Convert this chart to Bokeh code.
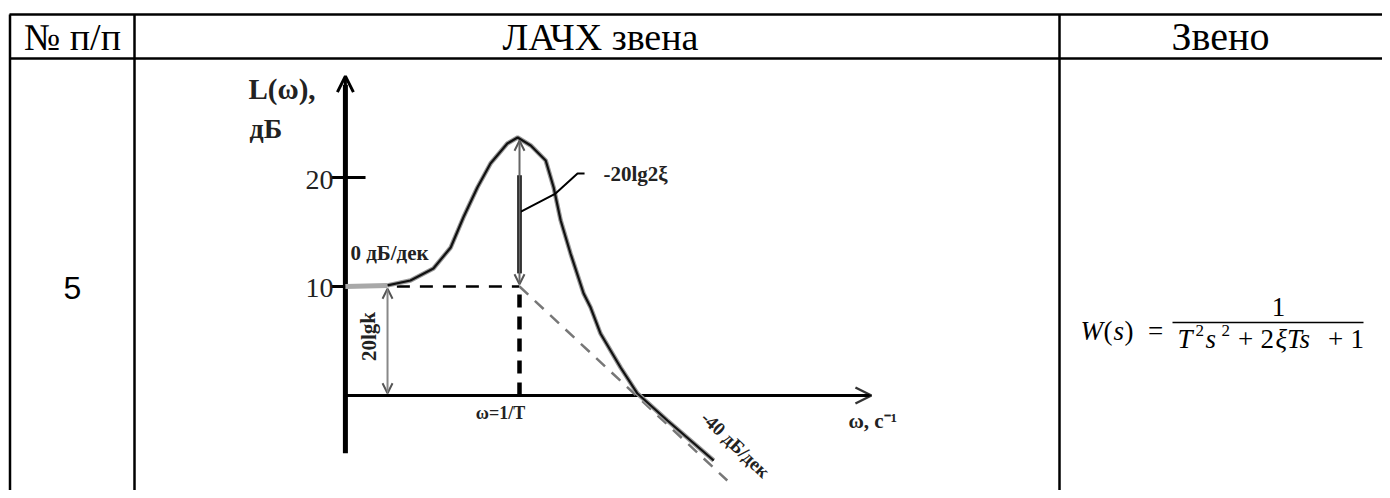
from bokeh.plotting import figure
from bokeh.models import Range1d, Arrow, OpenHead
from bokeh.core.properties import value
from bokeh.embed import file_html
from bokeh.resources import INLINE

# ---------------- table content ----------------
headers = ["№ п/п", "ЛАЧХ звена", "Звено"]
row_number = "5"

# ---------------- LAFC data (x: lg(ωT), y: L(ω), dB) ----------------
lg_w = [-0.372, -0.282, -0.233, -0.184, -0.147, -0.120, -0.090, -0.062, -0.026,
        -0.004, 0.024, 0.056, 0.073, 0.088, 0.109, 0.137, 0.152, 0.173, 0.216,
        0.252, 0.316, 0.415]
L_db = [10.0, 10.1, 10.55, 11.65, 13.58, 16.33, 19.08, 21.28, 23.12,
        23.67, 22.94, 21.56, 19.08, 16.06, 13.03, 9.36, 8.07, 5.69, 2.57,
        0.18, -2.29, -5.96]
asym_lg = [0.0, 0.444]          # -40 dB/dec asymptote
asym_db = [10.0, -7.8]
k_db = 10.0                     # 20 lg k
peak_db = 23.67
ticks_db = [10, 20]
tick_labels = ["10", "20"]

# ---------------- layout frames ----------------
W, H = 1382, 490
p = figure(width=W, height=H, output_backend="svg", toolbar_location=None,
           x_range=Range1d(0, W), y_range=Range1d(H, 0),
           min_border=0, min_border_left=0, min_border_right=0,
           min_border_top=0, min_border_bottom=0)
p.axis.visible = False
p.grid.visible = False
p.outline_line_color = None
p.background_fill_color = "white"
p.border_fill_color = "white"

# chart scales: pixel = 519 + 468*lg ; pixel = 395 - 10.9*dB
p.extra_x_ranges = {"lg": Range1d((0 - 519) / 468, (W - 519) / 468)}
p.extra_y_ranges = {"db": Range1d((395 - H) / 10.9, (395 - 0) / 10.9)}
C = dict(x_range_name="lg", y_range_name="db")

# ---------------- table grid ----------------
row_lines_y = [14, 58]
col_lines_x = [9.5, 134, 1059]
for yy in row_lines_y:
    p.line([9, W], [yy, yy], line_color="black", line_width=2.5)
for xx in col_lines_x:
    p.line([xx, xx], [14, H], line_color="black", line_width=2.5)

serif = value("Liberation Serif")
p.text(x=[72, 600], y=[36, 36], text=headers[:2], text_font=serif,
       text_font_size="38px", text_align="center", text_baseline="middle",
       text_color="black")
p.text(x=[1220], y=[36], text=headers[2:], text_font=serif,
       text_font_size="40px", text_align="center", text_baseline="middle",
       text_color="black")
p.text(x=[72], y=[287], text=[row_number], text_font=value("Liberation Sans"),
       text_font_size="32px", text_align="center", text_baseline="middle",
       text_color="black")

# ---------------- formula ----------------
fs = "27px"
def t(x, y, s, italic=False, size=fs, align="left"):
    p.text(x=[x], y=[y], text=[s], text_font=serif, text_font_size=size,
           text_font_style="italic" if italic else "normal",
           text_align=align, text_baseline="middle", text_color="black")
t(1080, 330, "W", True)
t(1103, 330, "(")
t(1113, 330, "s", True)
t(1124, 330, ")")
t(1155, 330, "=", align="center")
p.line([1172, 1363], [322, 322], line_color="black", line_width=1.5)
t(1278, 306, "1", align="center")
t(1177, 338, "T", True)
t(1195, 330, "2", size="17px")
t(1205, 338, "s", True)
t(1221, 330, "2", size="17px")
t(1245, 338, "+", align="center")
t(1260, 338, "2")
t(1275, 338, "ξTs", True)
t(1335, 338, "+", align="center")
t(1350, 338, "1")

# ---------------- chart ----------------
x0 = lg_w[0]
# axes
p.line([x0, x0], [-5.3, 28.5], line_color="black", line_width=5, **C)
p.add_layout(Arrow(end=OpenHead(size=16, line_width=3, line_color="black"),
                   x_start=x0, y_start=26, x_end=x0, y_end=29.3,
                   line_color="black", line_width=3, **C))
p.line([x0, 0.74], [0, 0], line_color="black", line_width=3, **C)
p.add_layout(Arrow(end=OpenHead(size=16, line_width=2.5, line_color="#333333"),
                   x_start=0.70, y_start=0, x_end=0.752, y_end=0,
                   line_color="black", line_width=3, **C))
# ticks
p.segment(x0=[x0 - 0.031, x0 - 0.031], y0=ticks_db, x1=[x0 - 0.004, x0 + 0.043],
          y1=ticks_db, line_color="black", line_width=3, **C)

# 20 lg k double arrow
p.add_layout(Arrow(start=OpenHead(size=10, line_width=2, line_color="#555555"),
                   end=OpenHead(size=10, line_width=2, line_color="#555555"),
                   x_start=lg_w[1], y_start=0.2, x_end=lg_w[1], y_end=k_db - 0.2,
                   line_color="#888888", line_width=2, **C))

# dashed lines to ω=1/T
p.line([-0.262, 0.0], [k_db, k_db], line_color="black", line_width=2.5,
       line_dash="13 10", **C)
p.line([0.0, 0.0], [0.0, k_db], line_color="black", line_width=4.5,
       line_dash="13 9", **C)
# asymptote
p.line(asym_lg, asym_db, line_color="#777777", line_width=2.5,
       line_dash="12 9", **C)

# curve
p.line(lg_w[1:], L_db[1:], line_color="#9a9a9a", line_width=4.5, **C)
p.line(lg_w[:2], L_db[:2], line_color="#a8a8a8", line_width=5, **C)
p.line(lg_w[1:], L_db[1:], line_color="#111111", line_width=2.2, **C)

# -20lg2ξ arrow at resonance
p.add_layout(Arrow(start=OpenHead(size=10, line_width=2, line_color="#555555"),
                   end=OpenHead(size=10, line_width=2, line_color="#555555"),
                   x_start=0.0, y_start=k_db + 0.2, x_end=0.0, y_end=peak_db - 0.3,
                   line_color="#666666", line_width=2, **C))
p.line([0.0, 0.0], [11.2, 20.2], line_color="black", line_width=4.5, **C)
# leader
p.line([0.0, 0.077, 0.124, 0.139], [16.8, 18.53, 20.37, 20.37],
       line_color="black", line_width=2, **C)

# chart labels (page frame)
bold = dict(text_font=serif, text_font_style="bold", text_color="#222222",
            text_baseline="middle")
p.text(x=[248], y=[88], text=["L(ω),"], text_font_size="29px",
       text_align="left", **bold)
p.text(x=[249], y=[128], text=["дБ"], text_font_size="28px",
       text_align="left", **bold)
p.text(x=[333, 333], y=[179, 287], text=tick_labels[::-1], text_font=serif,
       text_font_size="28px", text_align="right", text_baseline="middle",
       text_color="#222222")
p.text(x=[350], y=[252], text=["0 дБ/дек"], text_font_size="21px",
       text_align="left", **bold)
p.text(x=[603], y=[173], text=["-20lg2ξ"], text_font_size="21px",
       text_align="left", **bold)
p.text(x=[368], y=[336], text=["20lgk"], text_font_size="21px", angle=1.5708,
       text_align="center", **bold)
p.text(x=[500], y=[412], text=["ω=1/T"], text_font_size="18px",
       text_align="center", **bold)
p.text(x=[848], y=[420], text=["ω, с⁻¹"], text_font_size="21px",
       text_align="left", **bold)
p.text(x=[735], y=[444], text=["-40 дБ/дек"], text_font_size="19px", angle=-0.76,
       text_align="center", **bold)

open("out.html", "w").write(file_html(p, INLINE))
